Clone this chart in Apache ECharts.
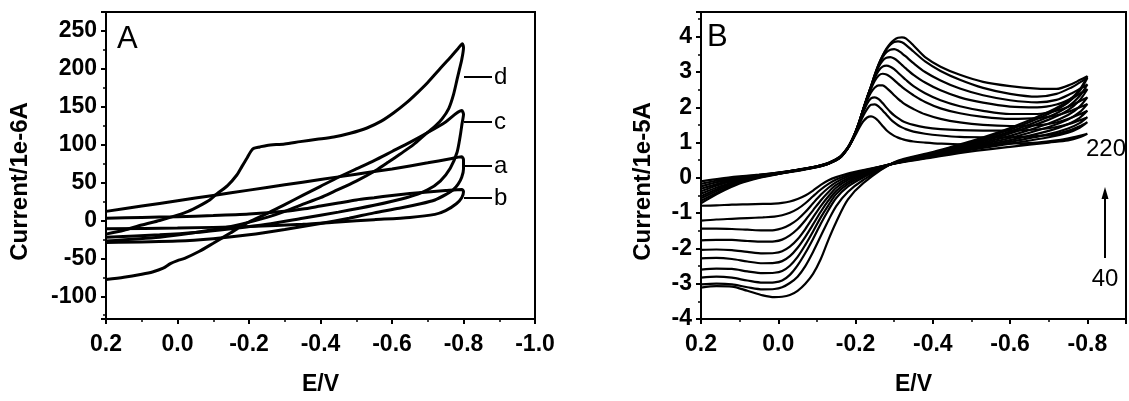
<!DOCTYPE html>
<html>
<head>
<meta charset="utf-8">
<script src="https://cdn.jsdelivr.net/npm/echarts@6/dist/echarts.min.js"></script>
<style>
  html, body { margin: 0; padding: 0; background: #fff; }
  #chart { width: 1129px; height: 401px; }
</style>
</head>
<body>
<div id="chart"></div>
<script>
// ---------- Panel A: cyclic voltammograms a–d, current in 1e-6 A ----------
const curveA = [
  [0.2, 12], [0.1, 19], [0.0, 26], [-0.1, 33], [-0.2, 40], [-0.3, 47], [-0.4, 54], [-0.5, 61],
  [-0.6, 68], [-0.7, 76], [-0.76, 81], [-0.795, 84], [-0.8, 80], [-0.8, 68], [-0.795, 57],
  [-0.785, 48], [-0.77, 40], [-0.75, 34], [-0.72, 27], [-0.68, 22], [-0.62, 16], [-0.55, 10],
  [-0.48, 3], [-0.4, -4], [-0.3, -12], [-0.2, -19], [-0.1, -24], [0.0, -27], [0.2, -29]
];
const curveB = [
  [0.2, 3], [0.1, 4], [0.0, 5], [-0.1, 6.5], [-0.2, 8.5], [-0.3, 12], [-0.35, 15], [-0.4, 19],
  [-0.45, 23], [-0.5, 27], [-0.55, 30], [-0.6, 33], [-0.65, 35.5], [-0.7, 37.5], [-0.75, 39.5],
  [-0.795, 41], [-0.8, 38], [-0.795, 30], [-0.78, 22], [-0.75, 13], [-0.72, 8], [-0.65, 4],
  [-0.55, 1], [-0.45, -2], [-0.35, -5], [-0.2, -8], [0.0, -10], [0.2, -11]
];
const curveC = [
  [0.2, -78], [0.15, -75], [0.1, -71], [0.07, -68], [0.04, -63], [0.02, -57], [0.0, -53],
  [-0.02, -50], [-0.06, -41], [-0.1, -30], [-0.15, -16], [-0.2, -2], [-0.25, 9], [-0.3, 21],
  [-0.35, 33], [-0.4, 45], [-0.45, 57], [-0.5, 68], [-0.55, 79], [-0.6, 91], [-0.65, 103],
  [-0.7, 116], [-0.75, 130], [-0.795, 145], [-0.8, 140], [-0.796, 128], [-0.791, 112],
  [-0.782, 90], [-0.763, 69], [-0.735, 52], [-0.698, 40], [-0.64, 30], [-0.55, 20],
  [-0.45, 11], [-0.35, 3], [-0.25, -5], [-0.15, -11], [-0.05, -16], [0.05, -19], [0.2, -22]
];
const curveD = [
  [0.2, -18], [0.15, -13], [0.1, -6], [0.05, 0], [0.0, 7], [-0.03, 12], [-0.06, 19],
  [-0.09, 27], [-0.11, 35], [-0.14, 46], [-0.166, 60], [-0.18, 71], [-0.194, 82],
  [-0.205, 91], [-0.213, 95], [-0.23, 97], [-0.25, 99], [-0.3, 101], [-0.343, 104],
  [-0.39, 107], [-0.437, 110], [-0.483, 115], [-0.53, 122], [-0.57, 131], [-0.605, 142],
  [-0.64, 155], [-0.67, 168], [-0.7, 182], [-0.736, 201], [-0.765, 216], [-0.785, 227],
  [-0.797, 233], [-0.8, 228], [-0.795, 212], [-0.788, 198], [-0.782, 186], [-0.772, 166],
  [-0.759, 148], [-0.74, 134], [-0.72, 124], [-0.694, 114], [-0.66, 100], [-0.624, 88],
  [-0.59, 77], [-0.558, 67], [-0.5, 52], [-0.437, 38], [-0.4, 30], [-0.343, 20],
  [-0.3, 12], [-0.25, 4], [-0.15, -8], [-0.05, -16], [0.05, -22], [0.2, -27]
];
const curveNamesA = ['a', 'b', 'c', 'd'];

// ---------- Panel B: scans from 40 to 220, current in 1e-5 A ----------
const scanRates = [40, 60, 80, 100, 120, 140, 160, 180, 200, 220];
// potentials of the forward sweep (0.2 V -> -0.8 V)
const forwardE = [0.2, 0.15, 0.1, 0.05, 0.0, -0.05, -0.1, -0.13, -0.16, -0.18, -0.19, -0.2,
  -0.21, -0.22, -0.23, -0.24, -0.25, -0.26, -0.27, -0.28, -0.29, -0.3, -0.31, -0.32, -0.33,
  -0.35, -0.38, -0.42, -0.47, -0.53, -0.6, -0.67, -0.72, -0.76, -0.78, -0.8];
// potentials of the reverse sweep (-0.8 V -> 0.2 V)
const reverseE = [-0.8, -0.78, -0.75, -0.7, -0.6, -0.5, -0.4, -0.3, -0.22, -0.18, -0.15,
  -0.13, -0.11, -0.09, -0.07, -0.05, -0.03, -0.01, 0.01, 0.04, 0.08, 0.12, 0.16, 0.2];
const forwardI = [
  [-0.1, -0.02, 0.04, 0.09, 0.15, 0.23, 0.33, 0.43, 0.6, 0.85, 1.02, 1.22, 1.43, 1.6, 1.71, 1.74, 1.7, 1.6, 1.47, 1.35, 1.26, 1.19, 1.14, 1.1, 1.07, 1.03, 1.0, 0.97, 0.95, 0.95, 0.97, 1.0, 1.06, 1.14, 1.19, 1.25],
  [-0.17, -0.06, 0.02, 0.08, 0.15, 0.23, 0.33, 0.42, 0.6, 0.86, 1.05, 1.27, 1.52, 1.76, 1.95, 2.07, 2.08, 2.02, 1.91, 1.79, 1.67, 1.57, 1.49, 1.43, 1.38, 1.31, 1.25, 1.2, 1.16, 1.15, 1.15, 1.18, 1.25, 1.37, 1.46, 1.58],
  [-0.24, -0.1, 0.0, 0.07, 0.14, 0.23, 0.33, 0.42, 0.59, 0.86, 1.06, 1.3, 1.58, 1.86, 2.1, 2.25, 2.28, 2.23, 2.12, 1.99, 1.87, 1.77, 1.69, 1.62, 1.57, 1.5, 1.43, 1.38, 1.35, 1.34, 1.34, 1.37, 1.44, 1.55, 1.63, 1.72],
  [-0.31, -0.15, -0.02, 0.06, 0.14, 0.22, 0.32, 0.41, 0.59, 0.85, 1.06, 1.3, 1.6, 1.92, 2.2, 2.42, 2.56, 2.62, 2.62, 2.55, 2.45, 2.34, 2.24, 2.15, 2.07, 1.95, 1.8, 1.67, 1.57, 1.5, 1.47, 1.49, 1.57, 1.71, 1.8, 1.9],
  [-0.38, -0.19, -0.04, 0.05, 0.13, 0.22, 0.32, 0.41, 0.58, 0.85, 1.05, 1.3, 1.6, 1.94, 2.25, 2.52, 2.75, 2.9, 2.95, 2.93, 2.86, 2.77, 2.67, 2.58, 2.49, 2.34, 2.15, 1.97, 1.83, 1.73, 1.67, 1.69, 1.77, 1.91, 2.0, 2.09],
  [-0.45, -0.24, -0.07, 0.04, 0.13, 0.22, 0.32, 0.41, 0.58, 0.85, 1.05, 1.3, 1.6, 1.95, 2.27, 2.56, 2.84, 3.04, 3.15, 3.18, 3.15, 3.08, 2.98, 2.88, 2.78, 2.6, 2.4, 2.2, 2.03, 1.9, 1.81, 1.81, 1.9, 2.06, 2.17, 2.28],
  [-0.52, -0.28, -0.09, 0.03, 0.12, 0.21, 0.31, 0.4, 0.58, 0.84, 1.04, 1.29, 1.6, 1.95, 2.28, 2.58, 2.9, 3.15, 3.32, 3.4, 3.42, 3.38, 3.3, 3.2, 3.1, 2.92, 2.7, 2.48, 2.28, 2.13, 2.02, 2.0, 2.08, 2.26, 2.38, 2.51],
  [-0.58, -0.32, -0.11, 0.02, 0.12, 0.21, 0.31, 0.4, 0.57, 0.84, 1.04, 1.29, 1.59, 1.95, 2.28, 2.59, 2.92, 3.2, 3.42, 3.56, 3.63, 3.65, 3.61, 3.53, 3.44, 3.25, 3.0, 2.76, 2.53, 2.34, 2.2, 2.14, 2.21, 2.4, 2.52, 2.65],
  [-0.65, -0.37, -0.14, 0.01, 0.11, 0.21, 0.31, 0.4, 0.57, 0.84, 1.03, 1.28, 1.59, 1.94, 2.28, 2.59, 2.93, 3.22, 3.46, 3.64, 3.77, 3.85, 3.87, 3.84, 3.77, 3.58, 3.3, 3.03, 2.78, 2.55, 2.38, 2.3, 2.38, 2.57, 2.7, 2.83],
  [-0.72, -0.41, -0.16, 0.0, 0.11, 0.2, 0.3, 0.4, 0.57, 0.83, 1.03, 1.28, 1.58, 1.94, 2.27, 2.58, 2.92, 3.22, 3.46, 3.66, 3.81, 3.91, 3.97, 3.98, 3.95, 3.75, 3.42, 3.15, 2.92, 2.72, 2.6, 2.53, 2.52, 2.66, 2.77, 2.88]
];
const reverseI = [
  [1.25, 1.15, 1.06, 1.0, 0.88, 0.75, 0.58, 0.4, 0.22, 0.12, 0.02, -0.07, -0.2, -0.36, -0.5, -0.6, -0.67, -0.71, -0.73, -0.74, -0.75, -0.76, -0.78, -0.79],
  [1.58, 1.42, 1.28, 1.15, 0.97, 0.8, 0.6, 0.41, 0.2, 0.08, -0.05, -0.17, -0.33, -0.52, -0.72, -0.88, -0.99, -1.06, -1.1, -1.12, -1.14, -1.16, -1.18, -1.21],
  [1.72, 1.55, 1.4, 1.24, 1.02, 0.83, 0.61, 0.41, 0.18, 0.04, -0.12, -0.28, -0.48, -0.72, -0.97, -1.18, -1.33, -1.43, -1.48, -1.49, -1.47, -1.45, -1.44, -1.44],
  [1.9, 1.7, 1.52, 1.33, 1.07, 0.86, 0.62, 0.41, 0.15, -0.01, -0.2, -0.4, -0.64, -0.92, -1.2, -1.45, -1.63, -1.75, -1.8, -1.81, -1.79, -1.76, -1.76, -1.77],
  [2.09, 1.86, 1.65, 1.44, 1.13, 0.89, 0.63, 0.41, 0.12, -0.06, -0.28, -0.52, -0.8, -1.12, -1.45, -1.74, -1.95, -2.08, -2.13, -2.14, -2.1, -2.05, -2.03, -2.04],
  [2.28, 2.02, 1.78, 1.54, 1.19, 0.92, 0.65, 0.42, 0.09, -0.12, -0.37, -0.64, -0.96, -1.32, -1.67, -1.98, -2.22, -2.36, -2.41, -2.42, -2.37, -2.3, -2.27, -2.28],
  [2.51, 2.2, 1.92, 1.65, 1.26, 0.95, 0.67, 0.42, 0.05, -0.18, -0.46, -0.77, -1.12, -1.52, -1.9, -2.24, -2.49, -2.64, -2.69, -2.7, -2.65, -2.58, -2.57, -2.6],
  [2.65, 2.32, 2.02, 1.73, 1.31, 0.98, 0.69, 0.43, 0.01, -0.25, -0.57, -0.91, -1.3, -1.73, -2.13, -2.48, -2.75, -2.91, -2.96, -2.97, -2.91, -2.83, -2.8, -2.83],
  [2.83, 2.46, 2.13, 1.82, 1.37, 1.01, 0.71, 0.43, -0.06, -0.4, -0.8, -1.2, -1.65, -2.1, -2.5, -2.8, -2.98, -3.1, -3.15, -3.16, -3.1, -3.02, -3.0, -3.02],
  [2.88, 2.5, 2.18, 1.87, 1.41, 1.04, 0.73, 0.44, -0.15, -0.62, -1.25, -1.75, -2.3, -2.72, -3.0, -3.2, -3.32, -3.37, -3.38, -3.33, -3.2, -3.08, -3.07, -3.11]
];

// ---------- styling ----------
const FONT = 'Liberation Sans, Arial, sans-serif';
const tickLabel = { color: '#000', fontFamily: FONT, fontWeight: 'bold', fontSize: 23 };
const titleStyle = { color: '#000', fontFamily: FONT, fontWeight: 'bold', fontSize: 24 };

function potentialLabel(v) {
  const t = Math.round(v * 10);
  if (t % 2 !== 0) return '';
  const r = t / 10;
  return (r === 0 ? 0 : r).toFixed(1);
}

const axisLineStyle = { show: true, onZero: false, lineStyle: { color: '#000', width: 2 } };
const majorTick = { show: true, inside: false, length: 5, lineStyle: { color: '#000', width: 2 } };
const minorTickStyle = { show: true, splitNumber: 2, length: 3, lineStyle: { color: '#000', width: 1.5 } };

function xAxisFor(gridIndex, min, max) {
  return {
    type: 'value', gridIndex, inverse: true, min, max, splitNumber: 5,
    name: 'E/V', nameLocation: 'middle', nameGap: 54,
    nameTextStyle: Object.assign({}, titleStyle, { fontSize: 23 }),
    axisLine: axisLineStyle, axisTick: majorTick, minorTick: minorTickStyle,
    axisLabel: Object.assign({ margin: 14, formatter: potentialLabel }, tickLabel),
    splitLine: { show: false }
  };
}

const lineA = { color: '#000', width: 3 };
const lineB = { color: '#000', width: 2.2 };

const seriesA = [curveA, curveB, curveC, curveD].map((d, i) => ({
  type: 'line', name: curveNamesA[i], xAxisIndex: 0, yAxisIndex: 0,
  data: d, showSymbol: false, smooth: 0.25, lineStyle: lineA, z: 3
}));

const seriesB = scanRates.map((rate, k) => ({
  type: 'line', name: String(rate), xAxisIndex: 1, yAxisIndex: 1,
  data: forwardE.map((e, i) => [e, forwardI[k][i]])
    .concat(reverseE.map((e, i) => [e, reverseI[k][i]])),
  showSymbol: false, smooth: 0.3, lineStyle: lineB, z: 3
}));

const letterStyle = { fill: '#000', font: '24px ' + FONT, verticalAlign: 'middle', align: 'left' };
const curveTags = [
  { t: 'd', y: 77 }, { t: 'c', y: 122 }, { t: 'a', y: 166 }, { t: 'b', y: 198 }
];
const graphics = [
  { type: 'text', left: 117, top: 24, style: { text: 'A', fill: '#000', font: '31px ' + FONT } },
  { type: 'text', left: 707, top: 22, style: { text: 'B', fill: '#000', font: '31px ' + FONT } }
];
curveTags.forEach(c => {
  graphics.push({ type: 'line', shape: { x1: 464, y1: c.y, x2: 492, y2: c.y }, style: { stroke: '#000', lineWidth: 2 } });
  graphics.push({ type: 'text', x: 494, y: c.y, style: Object.assign({ text: c.t }, letterStyle) });
});
graphics.push(
  { type: 'line', shape: { x1: 1105, y1: 258, x2: 1105, y2: 196 }, style: { stroke: '#000', lineWidth: 2 } },
  { type: 'polygon', shape: { points: [[1105, 187], [1101.5, 199], [1108.5, 199]] }, style: { fill: '#000' } },
  { type: 'text', x: 1106, y: 149, style: { text: '220', fill: '#000', font: '24px ' + FONT, align: 'center', verticalAlign: 'middle' } },
  { type: 'text', x: 1105, y: 279, style: { text: '40', fill: '#000', font: '24px ' + FONT, align: 'center', verticalAlign: 'middle' } }
);

const chart = echarts.init(document.getElementById('chart'), null, { renderer: 'canvas' });
chart.setOption({
  animation: false,
  backgroundColor: '#fff',
  grid: [
    { left: 106, top: 12, width: 429, height: 317, show: true, borderColor: '#000', borderWidth: 2, containLabel: false },
    { left: 701, top: 12, width: 426, height: 313, show: true, borderColor: '#000', borderWidth: 2, containLabel: false }
  ],
  xAxis: [xAxisFor(0, -1.0, 0.2), xAxisFor(1, -0.9, 0.2)],
  yAxis: [
    {
      type: 'value', gridIndex: 0, min: -130, max: 275, splitNumber: 8,
      name: 'Current/1e-6A', nameLocation: 'middle', nameGap: 74, nameRotate: 90,
      nameTextStyle: Object.assign({ padding: [0, 32, 0, 0] }, titleStyle),
      axisLine: axisLineStyle, axisTick: majorTick, minorTick: minorTickStyle,
      axisLabel: Object.assign({ margin: 9, formatter: v => (v % 50 === 0 ? String(v) : '') }, tickLabel),
      splitLine: { show: false }
    },
    {
      type: 'value', gridIndex: 1, min: -4, max: 4.7, interval: 1,
      name: 'Current/1e-5A', nameLocation: 'middle', nameGap: 46, nameRotate: 90,
      nameTextStyle: Object.assign({ padding: [0, 32, 0, 0] }, titleStyle),
      axisLine: axisLineStyle, axisTick: majorTick, minorTick: minorTickStyle,
      axisLabel: Object.assign({ margin: 9, formatter: v => (Number.isInteger(v) ? String(v) : '') }, tickLabel),
      splitLine: { show: false }
    }
  ],
  series: seriesA.concat(seriesB),
  graphic: graphics
});
</script>
</body>
</html>
